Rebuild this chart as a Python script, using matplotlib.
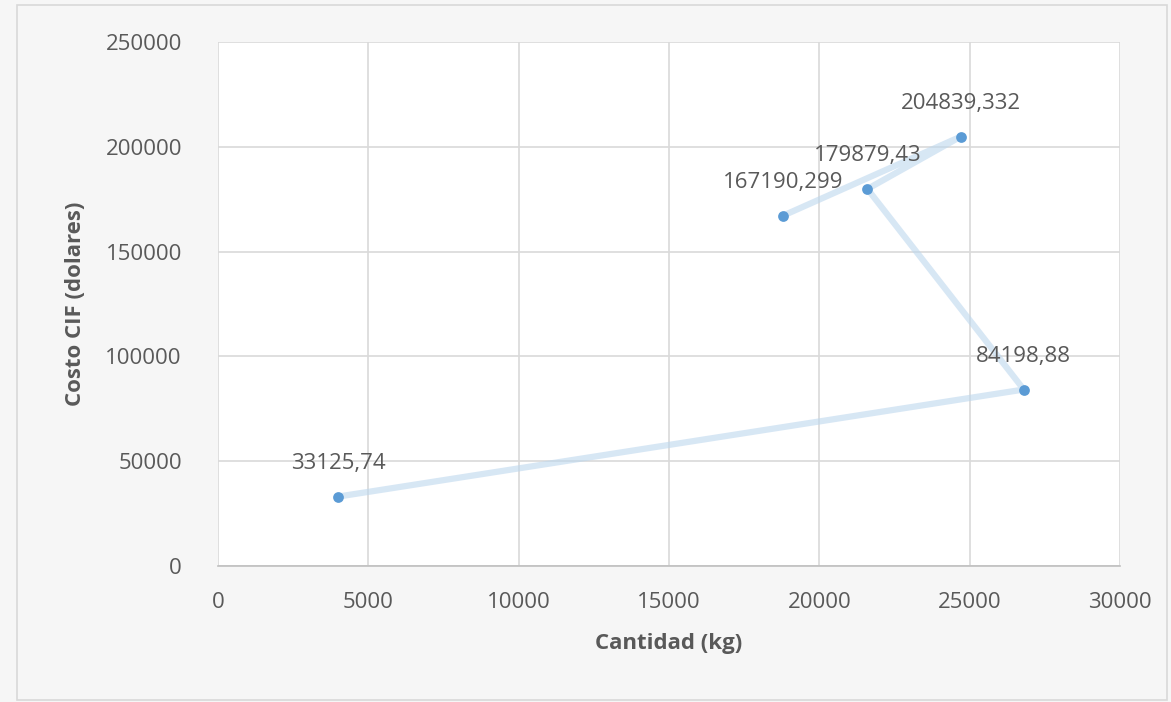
import numpy as np
import matplotlib
matplotlib.use("Agg")
from matplotlib import pyplot as plt
from matplotlib.patches import Rectangle

# data in drawing order (the line follows this order)
cantidad = [4000, 26800, 21600, 24700, 18800]
costo = [33125.74, 84198.88, 179879.43, 204839.332, 167190.299]
etiquetas = ["33125,74", "84198,88", "179879,43", "204839,332", "167190,299"]
x_ticks = [0, 5000, 10000, 15000, 20000, 25000, 30000]
y_ticks = [0, 50000, 100000, 150000, 200000, 250000]

plt.rcParams["font.family"] = ["Open Sans", "DejaVu Sans"]
gray = "#595959"

fig = plt.figure(figsize=(11.71, 7.02), dpi=100, facecolor="#f6f6f6")
# outer chart border
fig.patches.append(Rectangle((17 / 1171, 2 / 702), 1150 / 1171, 695 / 702,
                             transform=fig.transFigure, fill=False,
                             edgecolor="#d9d9d9", linewidth=1.2))
ax = fig.add_axes([218 / 1171, 1 - 566 / 702, 902 / 1171, 524 / 702])
ax.set_facecolor("white")

ax.plot(cantidad, costo, color="#bdd7ee", linewidth=4.5, alpha=0.6,
        solid_capstyle="round", zorder=2)
ax.scatter(cantidad, costo, s=60, color="#5b9bd5", zorder=3, linewidths=0)
for xv, yv, t in zip(cantidad, costo, etiquetas):
    ax.annotate(t, (xv, yv), xytext=(0, 24), textcoords="offset points",
                ha="center", va="center", fontsize=16, color=gray)

ax.set_xlim(0, 30000)
ax.set_ylim(0, 250000)
ax.set_xticks(x_ticks)
ax.set_yticks(y_ticks)
ax.set_xticklabels([str(v) for v in x_ticks])
ax.set_yticklabels([str(v) for v in y_ticks])
ax.tick_params(length=0, labelsize=16, colors=gray)
ax.tick_params(axis="x", pad=19)
ax.tick_params(axis="y", pad=26)
ax.grid(True, color="#d9d9d9", linewidth=1.2)
ax.set_axisbelow(True)
for s in ["top", "right", "left"]:
    ax.spines[s].set_visible(False)
ax.spines["bottom"].set_color("#bfbfbf")
ax.spines["bottom"].set_linewidth(1.2)

ax.set_xlabel("Cantidad (kg)", fontsize=16, fontweight="bold", color=gray, labelpad=14)
ax.set_ylabel("Costo CIF (dolares)", fontsize=16, fontweight="bold", color=gray, labelpad=14)

fig.savefig("out.png", dpi=100, facecolor=fig.get_facecolor())
